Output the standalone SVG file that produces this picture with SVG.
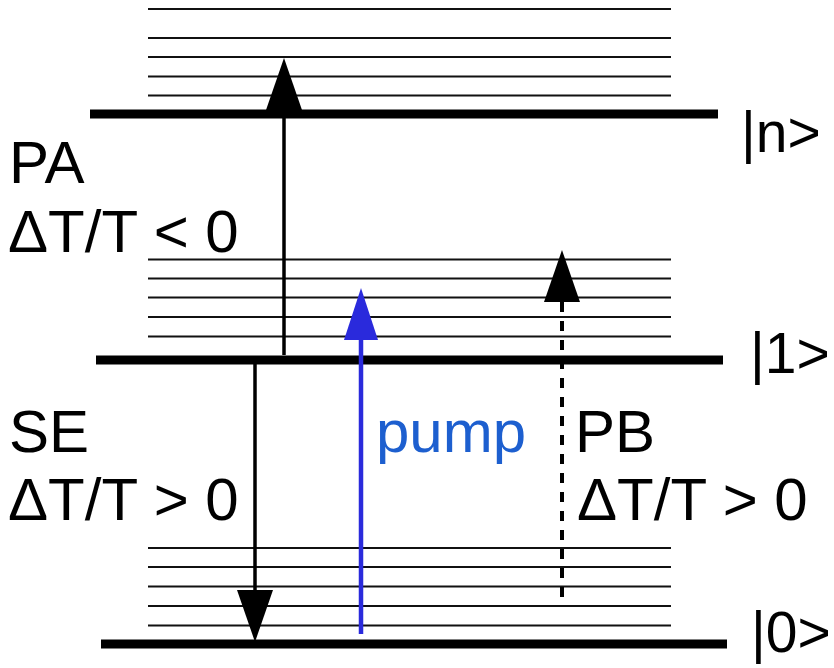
<svg xmlns="http://www.w3.org/2000/svg" width="834" height="668" viewBox="0 0 834 668">
<style>
.thin{stroke:#111;stroke-width:2;fill:none}
.thick{stroke:#000;stroke-width:9;fill:none}
.lbl{font-family:"Liberation Sans",Arial,sans-serif;font-size:60px;fill:#000}
.ket{font-size:57px}
.pump{fill:#1d5fcf}
.shaft{stroke:#000;stroke-width:3.5;fill:none}
</style>
<defs>
<marker id="ah" viewBox="0 0 52 36" refX="0" refY="18" markerWidth="52" markerHeight="36" markerUnits="userSpaceOnUse" orient="auto"><path d="M0,0 L52,18 L0,36 z" fill="#000"/></marker>
<marker id="ahb" viewBox="0 0 52 34" refX="0" refY="17" markerWidth="52" markerHeight="34" markerUnits="userSpaceOnUse" orient="auto"><path d="M0,0 L52,17 L0,34 z" fill="#2a2adc"/></marker>
</defs>
<g id="band-n">
<line class="thin" x1="148" y1="9" x2="671" y2="9"/>
<line class="thin" x1="148" y1="38" x2="671" y2="38"/>
<line class="thin" x1="148" y1="57" x2="671" y2="57"/>
<line class="thin" x1="148" y1="76.5" x2="671" y2="76.5"/>
<line class="thin" x1="148" y1="95.5" x2="671" y2="95.5"/>
</g>
<g id="level-n">
<line class="thick" x1="90" y1="114" x2="718" y2="114"/>
<text class="lbl ket" x="741" y="152">|n&gt;</text>
</g>
<g id="band-1">
<line class="thin" x1="148" y1="259.5" x2="671" y2="259.5"/>
<line class="thin" x1="148" y1="278.5" x2="671" y2="278.5"/>
<line class="thin" x1="148" y1="297.5" x2="671" y2="297.5"/>
<line class="thin" x1="148" y1="317" x2="671" y2="317"/>
<line class="thin" x1="148" y1="336.5" x2="671" y2="336.5"/>
</g>
<g id="level-1">
<line class="thick" x1="96" y1="360" x2="723" y2="360"/>
<text class="lbl ket" x="750" y="373">|1&gt;</text>
</g>
<g id="band-0">
<line class="thin" x1="148" y1="548" x2="671" y2="548"/>
<line class="thin" x1="148" y1="567" x2="671" y2="567"/>
<line class="thin" x1="148" y1="586.5" x2="671" y2="586.5"/>
<line class="thin" x1="148" y1="606" x2="671" y2="606"/>
<line class="thin" x1="148" y1="625.5" x2="671" y2="625.5"/>
</g>
<g id="level-0">
<line class="thick" x1="101" y1="644" x2="727" y2="644"/>
<text class="lbl ket" x="751" y="652">|0&gt;</text>
</g>
<g id="connectors">
<line class="shaft" x1="284" y1="355" x2="284" y2="110" marker-end="url(#ah)"/>
<line class="shaft" x1="255" y1="364" x2="255" y2="590" marker-end="url(#ah)"/>
<line stroke="#2a2adc" stroke-width="4.5" x1="361" y1="634" x2="361" y2="340" marker-end="url(#ahb)"/>
<line stroke="#000" stroke-width="4" stroke-dasharray="10 9" x1="562" y1="597" x2="562" y2="302" marker-end="url(#ah)"/>
</g>
<g id="label-pa">
<text class="lbl" x="9" y="183">PA</text>
<text class="lbl" x="8" y="252">ΔT/T &lt; 0</text>
</g>
<g id="label-se">
<text class="lbl" x="9" y="452">SE</text>
<text class="lbl" x="8" y="520">ΔT/T &gt; 0</text>
</g>
<g id="label-pump">
<text class="lbl pump" x="376" y="452">pump</text>
</g>
<g id="label-pb">
<text class="lbl" x="575" y="452">PB</text>
<text class="lbl" x="577" y="520">ΔT/T &gt; 0</text>
</g>
</svg>
